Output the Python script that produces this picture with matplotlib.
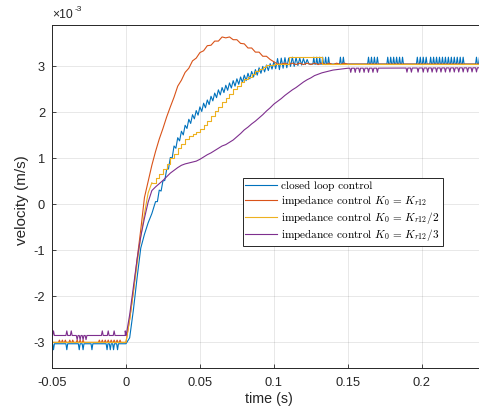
import numpy as np
import matplotlib
matplotlib.use("Agg")
import matplotlib.pyplot as plt

plt.rcParams['font.family'] = ['Liberation Sans', 'DejaVu Sans']
plt.rcParams['axes.unicode_minus'] = False
plt.rcParams['mathtext.fontset'] = 'cm'
plt.rcParams['axes.formatter.use_mathtext'] = True

# ---------------- data (velocity in units of 1e-3 m/s) ----------------
t_coarse = np.round(np.arange(0, 0.1501, 0.0025), 5)          # 0 .. 0.15
t_blue = np.round(np.concatenate([np.arange(0, 0.0199, 0.0025),
                                  np.arange(0.02, 0.12501, 0.00125)]), 5)

blue_tr = [-3.03, -2.9, -2.3, -1.6, -0.95, -0.65, -0.4, -0.2,
           0.06, 0.06, 0.31, 0.29, 0.51, 0.52, 0.76, 0.77, 1.02, 1.01,
           1.27, 1.22, 1.45, 1.38, 1.59, 1.51, 1.72, 1.65, 1.85, 1.76,
           1.95, 1.86, 2.04, 1.94, 2.12, 2.02, 2.20, 2.10, 2.27, 2.17,
           2.35, 2.25, 2.42, 2.32, 2.49, 2.38, 2.54, 2.43, 2.59, 2.48,
           2.64, 2.53, 2.69, 2.57, 2.73, 2.61, 2.77, 2.65, 2.81, 2.69,
           2.85, 2.73, 2.89, 2.77, 2.93, 2.81, 2.97, 2.85, 3.00, 2.88,
           3.03, 2.91, 3.06, 2.94, 3.10, 2.95, 3.17, 2.93, 3.18, 2.96,
           3.19, 2.97, 3.18, 3.00, 3.20, 3.00, 3.19, 3.02, 3.18, 3.03,
           3.17, 3.04, 3.15, 3.05, 3.05]
orange_tr = [-3.0, -2.5, -1.9, -1.2, -0.55, 0.15, 0.5, 0.85, 1.15, 1.42,
             1.65, 1.9, 2.12, 2.33, 2.57, 2.70, 2.87, 2.96, 3.12, 3.18,
             3.30, 3.34, 3.45, 3.46, 3.55, 3.55, 3.64, 3.62, 3.64, 3.58,
             3.58, 3.50, 3.49, 3.40, 3.40, 3.31, 3.31, 3.22, 3.22, 3.15,
             3.10, 3.05, 3.05, 3.07, 3.04, 3.07, 3.04, 3.07, 3.04, 3.07,
             3.04, 3.07, 3.04, 3.07, 3.04, 3.07, 3.04, 3.07, 3.04, 3.07, 3.05]
yellow_tr = [-3.0, -2.5, -1.9, -1.3, -0.7, -0.2, 0.25, 0.47, 0.58, 0.66,
             0.76, 0.88, 1.0, 1.1, 1.22, 1.32, 1.42, 1.48, 1.52, 1.57,
             1.63, 1.72, 1.82, 1.92, 2.02, 2.12, 2.22, 2.32, 2.41, 2.50,
             2.58, 2.65, 2.72, 2.78, 2.84, 2.90, 2.95, 2.99, 3.02, 3.04,
             3.05, 3.05, 3.05, 3.05, 3.20, 3.20, 3.20, 3.20, 3.20, 3.20,
             3.20, 3.20, 3.20, 3.06, 3.06, 3.06, 3.06, 3.06, 3.06, 3.06, 3.06]
purple_tr = [-2.85, -2.4, -1.8, -1.2, -0.7, -0.3, 0.05, 0.3, 0.38, 0.45,
             0.52, 0.6, 0.68, 0.74, 0.8, 0.85, 0.88, 0.9, 0.92, 0.94,
             0.98, 1.03, 1.08, 1.12, 1.17, 1.22, 1.27, 1.3, 1.35, 1.4,
             1.47, 1.54, 1.62, 1.68, 1.75, 1.81, 1.88, 1.95, 2.03, 2.10,
             2.18, 2.24, 2.30, 2.37, 2.43, 2.49, 2.54, 2.60, 2.66, 2.71,
             2.75, 2.80, 2.83, 2.86, 2.88, 2.90, 2.92, 2.93, 2.94, 2.95, 2.96]

# levels before the step and after settling
blue_pre, blue_post = -3.03, 3.05
orange_pre, orange_post = -3.0, 3.05
yellow_pre, yellow_post = -3.0, 3.06
purple_pre, purple_post = -2.85, 2.97

# spike times and heights (offset from base level)
blue_spk_pre = [-0.049, -0.040, -0.0316, -0.029, -0.023, -0.0128, -0.0106, -0.0084, -0.0057]
blue_spk_post = [0.127, 0.129, 0.131, 0.133, 0.135, 0.137, 0.145, 0.147, 0.164, 0.166,
                 0.168, 0.170, 0.177, 0.179, 0.181, 0.183, 0.185, 0.187, 0.197, 0.199,
                 0.201, 0.203, 0.206, 0.208, 0.210, 0.212, 0.214, 0.216, 0.218, 0.220,
                 0.222, 0.224, 0.226, 0.228, 0.237, 0.239]
orange_spk_pre = [-0.045, -0.043, -0.041, -0.038, -0.036, -0.033, -0.031, -0.029,
                  -0.018, -0.016, -0.014, -0.012, -0.010, -0.008, -0.006, -0.004]
purple_spk_pre_up = [-0.049, -0.040, -0.037, -0.016, -0.012, -0.008, -0.0005]
purple_spk_pre_dn = [-0.033, -0.031, -0.029, -0.027]
purple_spk_post_dn = [0.152, 0.155, 0.158, 0.161, 0.164, 0.167, 0.170, 0.190, 0.193,
                      0.1975, 0.201, 0.204, 0.207, 0.210, 0.213, 0.216, 0.219, 0.222,
                      0.225, 0.228, 0.231, 0.234, 0.237]

T0, T1 = -0.05, 0.24

def build(pre, t_tr, tr, post, spikes):
    t = np.array([T0, -0.0005] + list(t_tr) + [T1])
    v = np.array([pre, pre] + list(tr) + [post])
    for times, off in spikes:
        for ts in times:
            b = np.interp(ts, t, v)
            t = np.concatenate([t, [ts - 0.0006, ts, ts + 0.0006]])
            v = np.concatenate([v, [b, b + off, b]])
            o = np.argsort(t, kind='stable'); t, v = t[o], v[o]
    return t, v

labels = ["closed loop control",
          r"impedance control $K_0\,=\,K_{r12}$",
          r"impedance control $K_0\,=\,K_{r12}/2$",
          r"impedance control $K_0\,=\,K_{r12}/3$"]
colors = ['#0072BD', '#D95319', '#EDB120', '#7E2F8E']

blue = build(blue_pre, t_blue, blue_tr, blue_post, [(blue_spk_pre, -0.13), (blue_spk_post, 0.15)])
orange = build(orange_pre, t_coarse, orange_tr, orange_post, [(orange_spk_pre, 0.05)])
yellow = build(yellow_pre, t_coarse, yellow_tr, yellow_post, [])
purple = build(purple_pre, t_coarse, purple_tr, purple_post,
               [(purple_spk_pre_up, 0.1), (purple_spk_pre_dn, -0.09), (purple_spk_post_dn, -0.09)])

xticks = [-0.05, 0, 0.05, 0.1, 0.15, 0.2]
xticklabels = ['-0.05', '0', '0.05', '0.1', '0.15', '0.2']
yticks = [-3, -2, -1, 0, 1, 2, 3]
yticklabels = ['-3', '-2', '-1', '0', '1', '2', '3']

# ---------------- figure ----------------
fig = plt.figure(figsize=(4.79, 4.07), dpi=100)
ax = fig.add_axes([0.1086, 0.0966, 0.8954, 0.842])

lw = 0.8
ax.plot(*blue, color=colors[0], lw=lw, label=labels[0])
ax.plot(*orange, color=colors[1], lw=lw, label=labels[1])
# yellow: quantised staircase once the fast rise is over
ty, vy = yellow
k = np.searchsorted(ty, 0.0175)
ax.plot(ty[:k + 1], vy[:k + 1], color=colors[2], lw=lw, label=labels[2])
ax.plot(ty[k:], vy[k:], color=colors[2], lw=lw, drawstyle='steps-post')
ax.plot(*purple, color=colors[3], lw=lw, label=labels[3])

ax.set_xlim(-0.05, 0.24)
ax.set_ylim(-3.55, 3.9)
ax.set_xticks(xticks)
ax.set_xticklabels(xticklabels)
ax.set_yticks(yticks)
ax.set_yticklabels(yticklabels)
ax.tick_params(direction='in', length=3, width=0.6, labelsize=9.3, colors='#262626')
ax.tick_params(axis='x', pad=7)
ax.tick_params(axis='y', pad=5)
ax.grid(True, color='#262626', alpha=0.15, lw=0.5)
for s in ax.spines.values():
    s.set_color('#262626'); s.set_linewidth(0.7)

ax.set_xlabel('time (s)', fontsize=10.3, color='#262626')
ax.set_ylabel('velocity (m/s)', fontsize=11, color='#262626')
ax.xaxis.set_label_coords(0.506, -0.071)
ax.yaxis.set_label_coords(-0.054, 0.49)
ax.text(0.0, 1.012, '\u00d710', transform=ax.transAxes, fontsize=8.7,
        color='#262626', ha='left', va='bottom')
ax.text(0.053, 1.035, '-3', transform=ax.transAxes, fontsize=6,
        color='#262626', ha='left', va='bottom')

leg = ax.legend(loc='lower left', bbox_to_anchor=(0.4445, 0.355),
                prop={'family': 'cmr10', 'size': 8.1}, fancybox=False,
                edgecolor='#262626', framealpha=1, borderpad=0.25,
                labelspacing=0.15, handlelength=2.8, handletextpad=0.4,
                borderaxespad=0)
leg.get_frame().set_linewidth(0.7)

fig.savefig('out.png', dpi=100)
